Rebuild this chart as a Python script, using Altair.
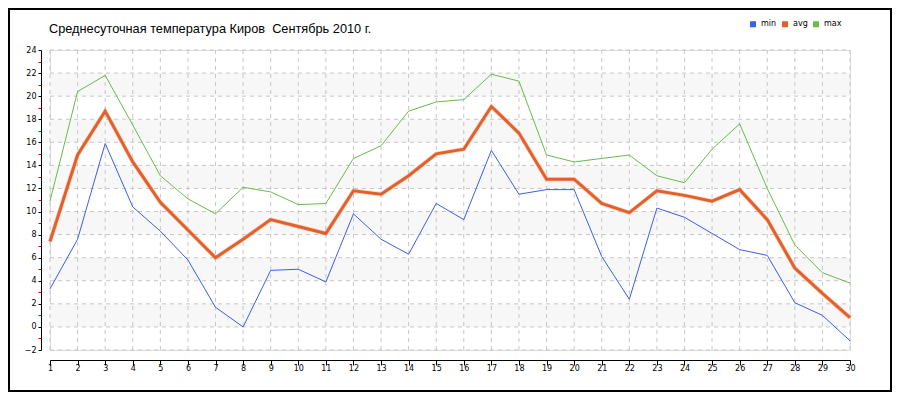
import altair as alt
import pandas as pd

# ---- data ----
days = list(range(1, 31))
t_min = [3.3, 7.6, 15.9, 10.4, 8.3, 5.8, 1.7, 0.0, 4.9, 5.0,
         3.9, 9.8, 7.6, 6.3, 10.7, 9.3, 15.3, 11.5, 11.9, 11.9,
         6.1, 2.4, 10.3, 9.5, 8.1, 6.7, 6.2, 2.1, 1.0, -1.2]
t_avg = [7.4, 14.9, 18.7, 14.3, 10.8, 8.4, 6.0, 7.6, 9.3, 8.7,
         8.1, 11.8, 11.5, 13.1, 15.0, 15.4, 19.1, 16.8, 12.8, 12.8,
         10.7, 9.9, 11.8, 11.4, 10.9, 11.9, 9.3, 5.1, 2.9, 0.8]
t_max = [10.9, 20.4, 21.8, 17.5, 13.1, 11.1, 9.8, 12.1, 11.7, 10.6,
         10.7, 14.6, 15.7, 18.7, 19.5, 19.7, 21.9, 21.3, 14.9, 14.3,
         14.6, 14.9, 13.1, 12.5, 15.4, 17.6, 12.0, 7.1, 4.7, 3.8]
series_names = ["min", "avg", "max"]
series_colors = ["#3d5ee6", "#e4602b", "#6abb48"]
y_ticks = list(range(-2, 25, 2))
y_minor = list(range(-1, 24, 2))
band_starts = [0, 4, 8, 12, 16, 20]
title_text = "Среднесуточная температура Киров\u00a0 Сентябрь 2010 г."

# ---- tables ----
thin_rows, thick_rows = [], []
for name, vals in zip(series_names, [t_min, t_avg, t_max]):
    for d, v in zip(days, vals):
        (thick_rows if name == "avg" else thin_rows).append(
            {"day": d, "value": v, "series": name})
thin_df = pd.DataFrame(thin_rows)
thick_df = pd.DataFrame(thick_rows)
bands_df = pd.DataFrame({"y0": band_starts, "y1": [b + 2 for b in band_starts],
                         "x0": days[0], "x1": days[-1]})
hgrid_df = pd.DataFrame({"y": y_ticks, "x0": days[0], "x1": days[-1]})
vgrid_df = pd.DataFrame({"x": days, "y0": y_ticks[0], "y1": y_ticks[-1]})

FONT = "DejaVu Sans"
xs = alt.Scale(domain=[days[0], days[-1]], nice=False, zero=False)
ys = alt.Scale(domain=[y_ticks[0], y_ticks[-1]], nice=False, zero=False)
cs = alt.Scale(domain=series_names, range=series_colors)

x_axis = alt.Axis(values=days, title=None, grid=False, domainColor="black",
                  domainWidth=1, tickColor="black", tickSize=5, tickWidth=1,
                  labelFont=FONT, labelFontSize=8, labelColor="black",
                  labelPadding=-1, offset=10, labelFlush=False, labelOverlap=False,
                  format="d", orient="bottom")
y_axis = alt.Axis(values=y_ticks, title=None, grid=False, domainColor="black",
                  domainWidth=1, tickColor="black", tickSize=3, tickWidth=1,
                  labelFont=FONT, labelFontSize=8, labelColor="black",
                  labelPadding=2, offset=9, orient="left", format="d",
                  labelFlush=False, labelOverlap=False)
y_axis_minor = alt.Axis(values=y_minor, title=None, grid=False, domain=False,
                        labels=False, tickColor="#e00000", tickSize=3, tickWidth=1,
                        offset=9, orient="left")

legend = alt.Legend(orient="none", legendX=699, legendY=-30,
                    direction="horizontal", title=None,
                    symbolType="square", symbolSize=9,
                    symbolStrokeWidth=3, labelFont=FONT,
                    labelFontSize=8, labelColor="black",
                    labelOffset=4, columnPadding=0, padding=0)

bands = alt.Chart(bands_df).mark_rect(color="#f7f7f7").encode(
    x=alt.X("x0:Q", scale=xs, axis=x_axis), x2="x1:Q",
    y=alt.Y("y0:Q", scale=ys, axis=y_axis_minor), y2="y1:Q")

hgrid = alt.Chart(hgrid_df).mark_rule(color="#c6c6c6", strokeDash=[4, 4], strokeWidth=1).encode(
    x=alt.X("x0:Q", scale=xs, axis=None), x2="x1:Q",
    y=alt.Y("y:Q", scale=ys, axis=None))

vgrid = alt.Chart(vgrid_df).mark_rule(color="#c6c6c6", strokeDash=[4, 4], strokeWidth=1).encode(
    x=alt.X("x:Q", scale=xs, axis=None),
    y=alt.Y("y0:Q", scale=ys, axis=None), y2="y1:Q")

halo = alt.Chart(thick_df).mark_line(color="#f2a888", strokeWidth=4.5, opacity=0.45).encode(
    x=alt.X("day:Q", scale=xs, axis=None),
    y=alt.Y("value:Q", scale=ys, axis=None))

thin = alt.Chart(thin_df).mark_line(strokeWidth=1).encode(
    x=alt.X("day:Q", scale=xs, axis=None),
    y=alt.Y("value:Q", scale=ys, axis=y_axis),
    color=alt.Color("series:N", scale=cs, sort=series_names, legend=legend))

thick = alt.Chart(thick_df).mark_line(strokeWidth=3).encode(
    x=alt.X("day:Q", scale=xs, axis=None),
    y=alt.Y("value:Q", scale=ys, axis=None),
    color=alt.Color("series:N", scale=cs, sort=series_names, legend=legend))

frame = alt.Chart(pd.DataFrame({"k": [0]})).mark_rect(
    fillOpacity=0, stroke="black", strokeWidth=2).encode(
    x=alt.value(-41), x2=alt.value(841), y=alt.value(-41), y2=alt.value(341))

chart = alt.layer(bands, hgrid, vgrid, halo, thin, thick, frame).resolve_axis(
    y="independent", x="independent"
).properties(
    width=800, height=300,
    padding={"left": 42, "top": 42, "right": 42, "bottom": 42},
    autosize=alt.AutoSizeParams(type="none"),
    title=alt.TitleParams(title_text, anchor="start", frame="group", align="left",
                          font="Liberation Sans", fontSize=12.75, fontWeight="normal",
                          color="black", baseline="alphabetic", offset=0, dx=-1, dy=38),
).configure_view(stroke=None).configure(background="white")

chart.save("out.html", embed_options={"renderer": "svg", "actions": False})
